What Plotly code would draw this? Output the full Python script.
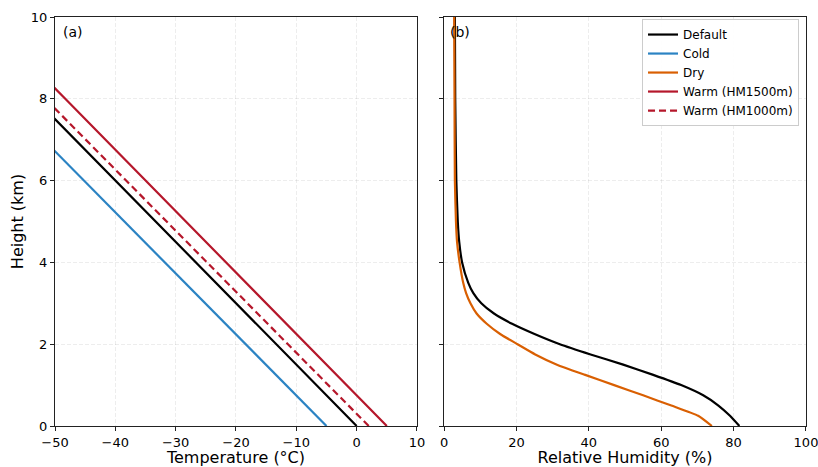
import plotly.graph_objects as go
from plotly.subplots import make_subplots

# ---- data: temperature profiles (height km vs temperature °C) ----
height_T = [0, 2, 4, 6, 8, 10]
temp_default = [0.0, -13.3, -26.7, -40.0, -53.3, -66.7]
temp_cold = [-5.0, -18.4, -31.8, -45.2, -58.6, -72.0]
temp_warm1500 = [5.0, -8.3, -21.7, -35.0, -48.3, -61.7]
temp_warm1000 = [2.0, -11.4, -24.8, -38.2, -51.6, -65.0]

# ---- data: relative humidity profiles ----
height_rh_default = [0, 0.25, 0.5, 0.75, 1.0, 1.25, 1.5, 1.75, 2.0, 2.25, 2.5, 2.75,
                     3.0, 3.25, 3.5, 4.0, 4.5, 5.0, 6, 8, 10]
rh_default = [81.6, 79.0, 75.8, 71.6, 65.5, 57.8, 49.5, 40.5, 32.0, 25.0, 18.8, 13.8,
              10.3, 8.1, 6.7, 5.0, 4.2, 3.8, 3.4, 3.1, 3.0]
height_rh_dry = [0, 0.25, 0.5, 0.75, 1.0, 1.25, 1.5, 1.75, 2.0, 2.25, 2.5, 2.75,
                 3.0, 3.25, 3.5, 4.0, 4.5, 5.0, 6, 8, 10]
rh_dry = [74.0, 70.2, 62.8, 55.0, 47.0, 39.0, 31.2, 25.2, 20.3, 15.5, 11.8, 9.0,
          7.3, 6.1, 5.3, 4.3, 3.6, 3.3, 3.0, 2.9, 2.8]

x_ticks_T = [-50, -40, -30, -20, -10, 0, 10]
x_ticks_rh = [0, 20, 40, 60, 80, 100]
y_ticks = [0, 2, 4, 6, 8, 10]

BLACK = "#000000"
BLUE = "#2b83c3"
ORANGE = "#d95f02"
RED = "#b5172b"
FONT = "DejaVu Sans"

fig = make_subplots(rows=1, cols=2, shared_yaxes=False, horizontal_spacing=0.036)

lw = 2.2
fig.add_trace(go.Scatter(x=temp_default, y=height_T, mode="lines", name="Default",
                         line=dict(color=BLACK, width=lw)), 1, 1)
fig.add_trace(go.Scatter(x=temp_cold, y=height_T, mode="lines", name="Cold",
                         line=dict(color=BLUE, width=lw)), 1, 1)
fig.add_trace(go.Scatter(x=temp_warm1500, y=height_T, mode="lines", name="Warm (HM1500m)",
                         line=dict(color=RED, width=lw), showlegend=False), 1, 1)
fig.add_trace(go.Scatter(x=temp_warm1000, y=height_T, mode="lines", name="Warm (HM1000m)",
                         line=dict(color=RED, width=lw, dash="7px,4px"), showlegend=False), 1, 1)

fig.add_trace(go.Scatter(x=rh_default, y=height_rh_default, mode="lines", name="Default",
                         line=dict(color=BLACK, width=lw, shape="spline", smoothing=0.5), showlegend=False), 1, 2)
fig.add_trace(go.Scatter(x=rh_dry, y=height_rh_dry, mode="lines", name="Dry",
                         line=dict(color=ORANGE, width=lw, shape="spline", smoothing=0.5)), 1, 2)
# legend-only entries for ordering
fig.add_trace(go.Scatter(x=[None], y=[None], mode="lines", name="Warm (HM1500m)",
                         line=dict(color=RED, width=lw)), 1, 2)
fig.add_trace(go.Scatter(x=[None], y=[None], mode="lines", name="Warm (HM1000m)",
                         line=dict(color=RED, width=lw, dash="7px,4px")), 1, 2)

axis_common = dict(
    showline=True, mirror=True, linecolor="#222", linewidth=1,
    ticks="outside", ticklen=4, tickcolor="#222", tickwidth=1,
    showgrid=True, gridcolor="rgba(0,0,0,0.07)", gridwidth=1, griddash="4px,2px",
    zeroline=False, tickfont=dict(family=FONT, size=13, color="#000"),
    automargin=False, ticklabeloverflow="allow",
)

fig.update_xaxes(range=[-50, 10], tickvals=x_ticks_T, row=1, col=1,
                 title=dict(text="Temperature (°C)", font=dict(family=FONT, size=16, color="#000"), standoff=2),
                 **axis_common)
fig.update_xaxes(range=[0, 100], tickvals=x_ticks_rh, row=1, col=2,
                 title=dict(text="Relative Humidity (%)", font=dict(family=FONT, size=16, color="#000"), standoff=2),
                 **axis_common)
fig.update_yaxes(range=[0, 10], tickvals=y_ticks, row=1, col=1,
                 title=dict(text="Height (km)", font=dict(family=FONT, size=16, color="#000"), standoff=3),
                 **axis_common)
fig.update_yaxes(range=[0, 10], tickvals=y_ticks, row=1, col=2, showticklabels=False, **axis_common)

fig.update_layout(
    width=818, height=467,
    margin=dict(l=55, r=12, t=17, b=41),
    plot_bgcolor="white", paper_bgcolor="white",
    font=dict(family=FONT, size=12, color="#000"),
    legend=dict(x=0.9907, y=0.995, xanchor="right", yanchor="top",
                bgcolor="rgba(255,255,255,0.9)", bordercolor="#cccccc", borderwidth=1,
                font=dict(family=FONT, size=12), tracegroupgap=0, itemwidth=30),
    showlegend=True,
)
fig.update_xaxes(domain=[0.0, 0.482], row=1, col=1)
fig.update_xaxes(domain=[0.518, 1.0], row=1, col=2)

fig.add_annotation(text="(a)", xref="x domain", yref="y domain", x=0.017, y=0.988,
                   xanchor="left", yanchor="top", showarrow=False,
                   font=dict(family=FONT, size=14, color="#000"))
fig.add_annotation(text="(b)", xref="x2 domain", yref="y2 domain", x=0.012, y=0.988,
                   xanchor="left", yanchor="top", showarrow=False,
                   font=dict(family=FONT, size=14, color="#000"))

fig.write_html("out.html")
